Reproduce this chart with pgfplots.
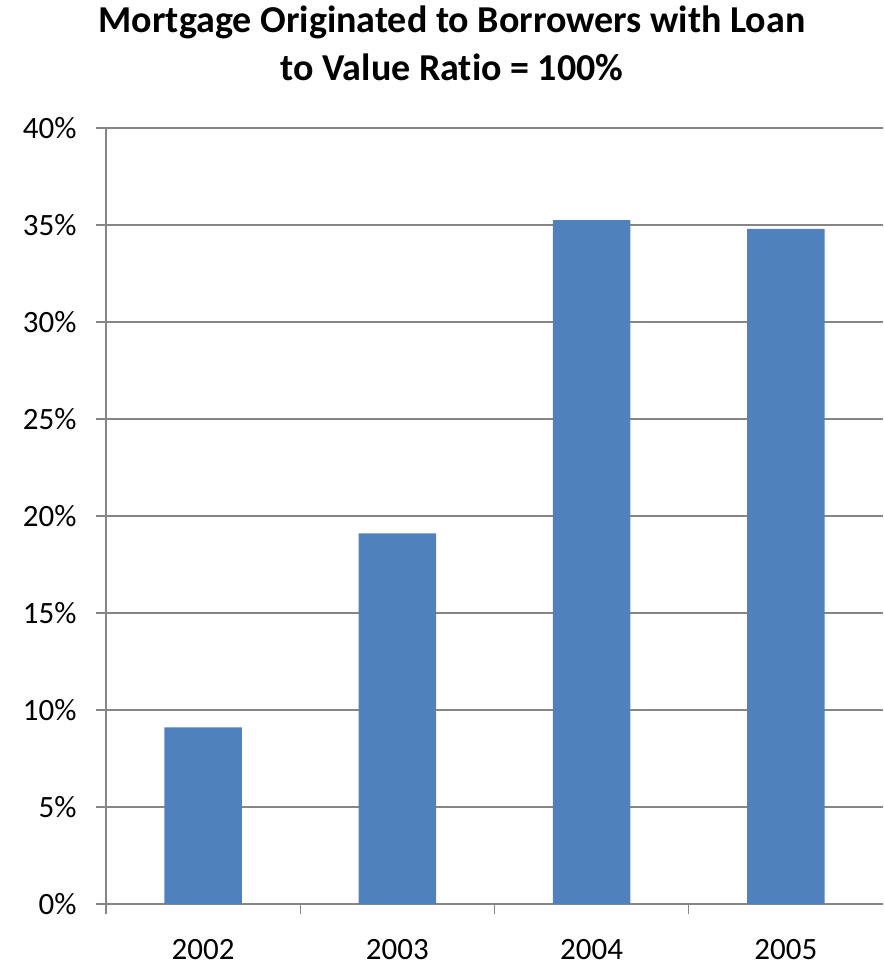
\documentclass[border=0pt]{standalone}
\usepackage{fontspec}
\setmainfont{Carlito}
\usepackage{pgfplots}
\pgfplotsset{compat=1.18}
\definecolor{barblue}{HTML}{4F81BD}
\definecolor{gridgray}{HTML}{868686}
\begin{document}
\begin{tikzpicture}
\useasboundingbox (-106pt,-67pt) rectangle (777pt,904pt);
\begin{axis}[
  at={(0pt,0pt)}, anchor=south west,
  scale only axis, width=777pt, height=776pt,
  ymin=0, ymax=40, xmin=-0.5, xmax=3.5,
  ytick={0,5,...,40},
  yticklabel={\pgfmathprintnumber{\tick}\%},
  xtick={0,1,2,3},
  xticklabels={2002,2003,2004,2005},
  minor xtick={-0.5,0.5,1.5,2.5},
  major x tick style={draw=none},
  tick align=outside,
  xtick pos=bottom, ytick pos=left,
  major tick length=10pt, minor tick length=10pt,
  tick style={gridgray, line width=1.3pt},
  axis line style={gridgray, line width=1.3pt},
  axis x line*=bottom, axis y line*=left,
  ymajorgrids, grid style={gridgray, line width=1.3pt},
  ticklabel style={font=\fontsize{31}{36}\selectfont},
  /pgf/number format/assume math mode=true,
  yticklabel style={xshift=-16pt},
  xticklabel style={yshift=-22pt},
  ybar, bar width=0.4,
  clip=false,
]
\addplot[fill=barblue, draw=none] coordinates {(0,9.1) (1,19.1) (2,35.25) (3,34.8)};
\end{axis}
\node[font=\fontsize{38}{47}\selectfont\bfseries, anchor=base]
  at (346pt,871pt) {Mortgage Originated to Borrowers with Loan};
\node[font=\fontsize{38}{47}\selectfont\bfseries, anchor=base]
  at (346pt,823pt) {to Value Rat\kern0pt io = 100\%};
\end{tikzpicture}
\end{document}
